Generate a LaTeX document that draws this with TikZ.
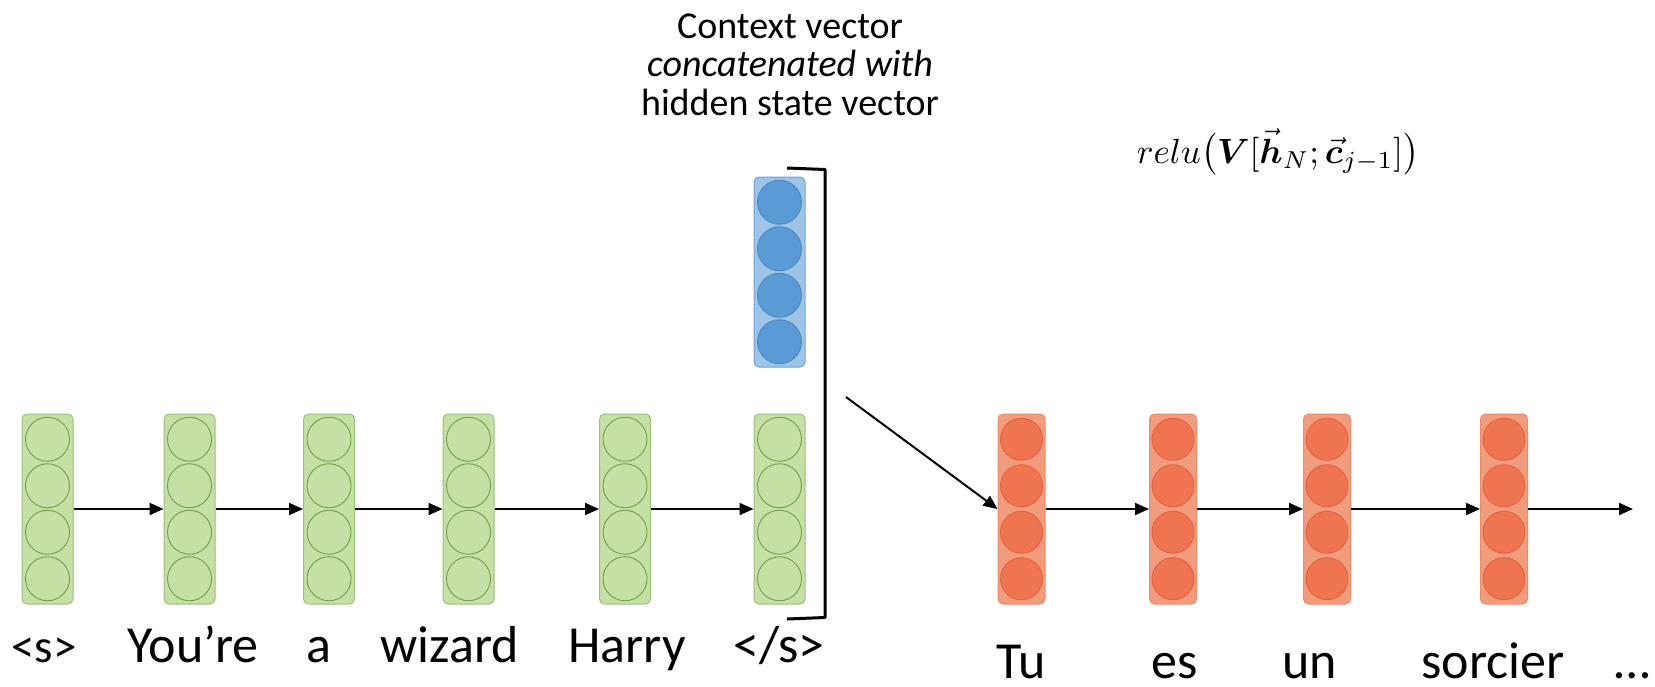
\documentclass[tikz,border=0pt]{standalone}
\usepackage{amsmath,bm}
\usepackage{graphicx}
\usepackage{fontspec}
\setmainfont{Carlito}
\usetikzlibrary{arrows.meta}

\definecolor{gfill}{HTML}{C5E0A4}
\definecolor{gedge}{HTML}{9DC07A}
\definecolor{gcedge}{HTML}{6E9F4C}
\definecolor{bfill}{HTML}{9DC3E6}
\definecolor{bedge}{HTML}{6FA5DA}
\definecolor{bcfill}{HTML}{5B9BD5}
\definecolor{bcedge}{HTML}{4A87C4}
\definecolor{rfill}{HTML}{F29C7E}
\definecolor{redge}{HTML}{EE8A68}
\definecolor{rcfill}{HTML}{EF7550}
\definecolor{rcedge}{HTML}{E5603C}

\tikzset{
  barbox/.style={rectangle, rounded corners=5pt, minimum height=190pt, inner sep=0pt, line width=1pt},
  gbar/.style={barbox, minimum width=51pt, fill=gfill, draw=gedge},
  bbar/.style={barbox, minimum width=51pt, fill=bfill, draw=bedge},
  rbar/.style={barbox, minimum width=47pt, fill=rfill, draw=redge},
  gcirc/.style={circle, minimum size=44pt, inner sep=0pt, fill=gfill, draw=gcedge, line width=0.9pt},
  bcirc/.style={circle, minimum size=44pt, inner sep=0pt, fill=bcfill, draw=bcedge, line width=0.9pt},
  rcirc/.style={circle, minimum size=42pt, inner sep=0pt, fill=rcfill, draw=rcedge, line width=0.9pt},
  arr/.style={line width=2pt, -{Triangle[length=14pt,width=12pt]}},
  bracketline/.style={line width=3pt, line join=round},
  word/.style={anchor=base, inner sep=0pt, font=\fontsize{52}{62}\selectfont},
  smallword/.style={anchor=base, inner sep=0pt, font=\fontsize{47}{56}\selectfont},
  lowword/.style={word, text depth=0pt},
  titleline/.style={anchor=base, inner sep=0pt, font=\fontsize{38}{46}\selectfont},
}

\begin{document}
\begin{tikzpicture}[x=1pt, y=-1pt]
\useasboundingbox (0,0) rectangle (1655,686);

% encoder hidden states
\foreach \n/\x in {g1/47.5, g2/189.5, g3/329, g4/468.5, g5/625, g6/779.5} {
  \node[gbar] (\n) at (\x,509) {};
  \foreach \k/\dy in {1/-69.75, 2/-23.25, 3/23.25, 4/69.75}
    \node[gcirc] (\n c\k) at (\x,509+\dy) {};
}

% context vector
\node[bbar] (ctx) at (779.5,272) {};
\foreach \k/\dy in {1/-69.75, 2/-23.25, 3/23.25, 4/69.75}
  \node[bcirc] (ctx c\k) at (779.5,272+\dy) {};

% decoder hidden states
\foreach \n/\x in {r1/1021.5, r2/1173, r3/1327, r4/1504} {
  \node[rbar] (\n) at (\x,509) {};
  \foreach \k/\dy in {1/-69.75, 2/-23.25, 3/23.25, 4/69.75}
    \node[rcirc] (\n c\k) at (\x,509+\dy) {};
}

% recurrent connections
\draw[arr] (g1.east) -- (g2.west);
\draw[arr] (g2.east) -- (g3.west);
\draw[arr] (g3.east) -- (g4.west);
\draw[arr] (g4.east) -- (g5.west);
\draw[arr] (g5.east) -- (g6.west);
\draw[arr] (r1.east) -- (r2.west);
\draw[arr] (r2.east) -- (r3.west);
\draw[arr] (r3.east) -- (r4.west);
\coordinate (rend) at (1633,509);
\draw[arr] (r4.east) -- (rend);

% bracket grouping context and final hidden state
\draw[bracketline] (787,168) -- (825,169.5) -- (825,617.5) -- (787,619);

% concatenated vector feeds the decoder
\coordinate (dstart) at (846,397);
\draw[arr] (dstart) -- (r1.west);

% source words
\node[smallword] (w1) at (44,662) {<s>};
\node[word] (w2) at (193,662) {You’re};
\node[word] (w3) at (319,662) {a};
\node[word] (w4) at (450,662) {wizard};
\node[word] (w5) at (627,662) {Harry};
\node[word] (w6) at (779,662) {</s>};

% target words
\node[lowword] (t1) at (1021,678) {Tu};
\node[lowword] (t2) at (1175,678) {es};
\node[lowword] (t3) at (1310,678) {un};
\node[lowword] (t4) at (1493,678) {sorcier};
\node[lowword] (t5) at (1632,678) {…};

% caption
\node[titleline] (cap1) at (790,38) {Context vector};
\node[titleline] (cap2) at (790,76.5) {\itshape concatenated with};
\node[titleline] (cap3) at (790,115) {hidden state vector};

% decoder update
\node[anchor=base, inner sep=0pt] (eq) at (1278,163)
  {\scalebox{3.5}{$relu\big(\bm{V}[\vec{\bm{h}}_N;\vec{\bm{c}}_{j-1}]\big)$}};
\end{tikzpicture}
\end{document}
